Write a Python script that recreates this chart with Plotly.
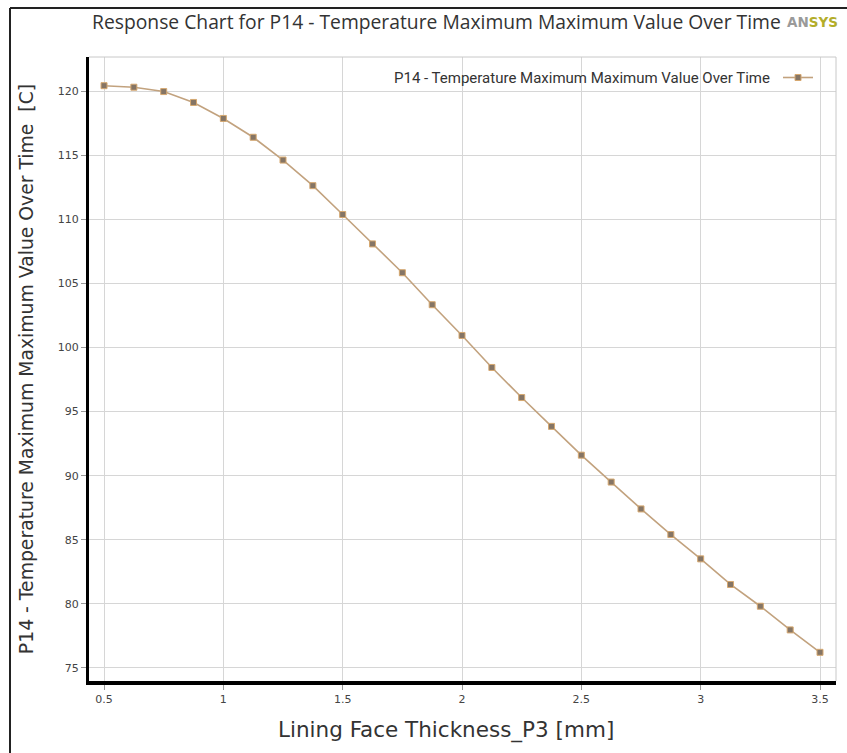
import plotly.graph_objects as go

thickness_mm = [0.5, 0.625, 0.75, 0.875, 1.0, 1.125, 1.25, 1.375, 1.5, 1.625, 1.75, 1.875,
                2.0, 2.125, 2.25, 2.375, 2.5, 2.625, 2.75, 2.875, 3.0, 3.125, 3.25, 3.375, 3.5]
temp_max_c = [120.46, 120.34, 120.0, 119.15, 117.9, 116.43, 114.65, 112.65, 110.4, 108.1,
              105.85, 103.35, 100.95, 98.45, 96.1, 93.85, 91.6, 89.5, 87.4, 85.4, 83.5,
              81.5, 79.8, 77.95, 76.2]
x_ticks = [0.5, 1, 1.5, 2, 2.5, 3, 3.5]
x_tick_labels = ["0.5", "1", "1.5", "2", "2.5", "3", "3.5"]
y_ticks = [75, 80, 85, 90, 95, 100, 105, 110, 115, 120]

W, H = 847, 753
L, R, T, B = 89, 836, 57, 681

def px(x):
    return (x - L) / (R - L)

def py(y):
    return (B - y) / (B - T)

fig = go.Figure()
fig.add_trace(go.Scatter(
    x=thickness_mm, y=temp_max_c, mode="lines+markers", name="",
    line=dict(color="#c2a27e", width=1.6),
    marker=dict(symbol="square", size=6, color="#857565",
                line=dict(color="#d6a870", width=1)),
))

fig.update_layout(
    width=W, height=H,
    margin=dict(l=L, r=W - R, t=T, b=H - B),
    paper_bgcolor="white", plot_bgcolor="white",
    title=dict(text="Response Chart for P14 - Temperature Maximum Maximum Value Over Time",
               xref="container", yref="container", x=92 / W, xanchor="left",
               y=1 - 22 / H, yanchor="middle",
               font=dict(family="Open Sans", size=19.3, color="#333333")),
    showlegend=True,
    legend=dict(x=px(824), xanchor="right", y=py(78), yanchor="middle",
                bgcolor="rgba(0,0,0,0)",
                title=dict(text="P14 - Temperature Maximum Maximum Value Over Time", side="left",
                           font=dict(family="Roboto", size=15, color="#333333")),
                itemwidth=30, font=dict(size=2)),
    xaxis=dict(range=[0.437, 3.567], tickvals=x_ticks, ticktext=x_tick_labels,
               showgrid=True, gridcolor="#d6d6d6", gridwidth=1, zeroline=False,
               showline=True, linecolor="black", linewidth=4,
               ticks="outside", ticklen=5, tickcolor="#999999",
               tickfont=dict(family="DejaVu Sans", size=11, color="#444444")),
    yaxis=dict(range=[73.96, 122.7], tickvals=y_ticks,
               showgrid=True, gridcolor="#d6d6d6", gridwidth=1, zeroline=False,
               showline=True, linecolor="black", linewidth=3,
               ticks="outside", ticklen=5, tickcolor="#999999",
               tickfont=dict(family="DejaVu Sans", size=11, color="#444444"),
               title=dict(text="P14 - Temperature Maximum Maximum Value Over Time  [C]", standoff=20,
                          font=dict(family="DejaVu Sans", size=18.8, color="#333333"))),
)

# x-axis title (slightly left of centre, as in the reference)
fig.add_annotation(xref="paper", yref="paper", x=px(446), y=py(730), xanchor="center", yanchor="middle",
                   showarrow=False, text="Lining Face Thickness_P3 [mm]",
                   font=dict(family="DejaVu Sans", size=21.5, color="#333333"))

# light border on top and right of the plot area
fig.add_shape(type="line", xref="paper", yref="paper", x0=0, x1=1, y0=1, y1=1,
              line=dict(color="#c8c8c8", width=1))
fig.add_shape(type="line", xref="paper", yref="paper", x0=1, x1=1, y0=0, y1=1,
              line=dict(color="#c8c8c8", width=1))
# outer frame (left and top edges)
fig.add_shape(type="line", xref="paper", yref="paper", x0=px(10), x1=px(10), y0=py(8), y1=py(760),
              line=dict(color="#222222", width=2))
fig.add_shape(type="line", xref="paper", yref="paper", x0=px(10), x1=px(860), y0=py(8), y1=py(8),
              line=dict(color="#222222", width=2))

# ANSYS logo text
fig.add_annotation(xref="paper", yref="paper", x=px(785), y=py(22), xanchor="left", yanchor="middle",
                   showarrow=False,
                   text="<b><span style='color:#9a9a9a'>AN</span><span style='color:#b3ad2a'>SYS</span></b>",
                   font=dict(family="DejaVu Sans", size=13.5))

fig.write_html("out.html")
